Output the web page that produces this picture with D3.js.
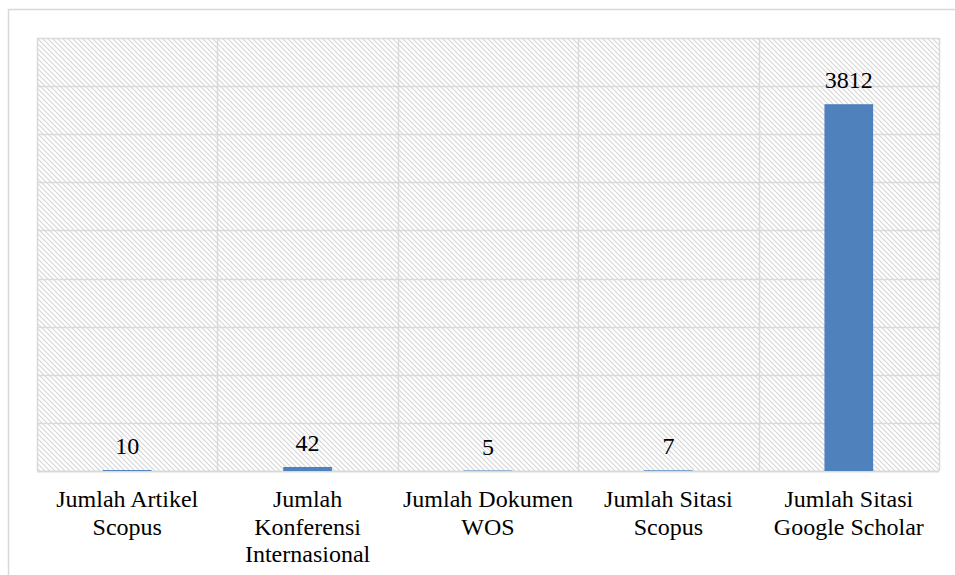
<!DOCTYPE html>
<html>
<head>
<meta charset="utf-8">
<script src="https://cdn.jsdelivr.net/npm/d3@7"></script>
<style>
  body { margin: 0; background: #fff; }
  svg { display: block; }
</style>
</head>
<body>
<script>
var categories = [
  ["Jumlah Artikel", "Scopus"],
  ["Jumlah", "Konferensi", "Internasional"],
  ["Jumlah Dokumen", "WOS"],
  ["Jumlah Sitasi", "Scopus"],
  ["Jumlah Sitasi", "Google Scholar"]
];
var values = [10, 42, 5, 7, 3812];
var yTicks = d3.range(0, 4501, 500);

var serif = "Liberation Serif, DejaVu Serif, serif";

var size = { width: 955, height: 575 };
var margin = { top: 38, right: 16, bottom: 104, left: 37 };
var w = size.width - margin.left - margin.right;
var h = size.height - margin.top - margin.bottom;

var svg = d3.select("body").append("svg")
  .attr("width", size.width)
  .attr("height", size.height);

// hatch pattern for the plot area
var pat = svg.append("defs").append("pattern")
  .attr("id", "hatch")
  .attr("patternUnits", "userSpaceOnUse")
  .attr("width", 5).attr("height", 5);
pat.append("rect").attr("width", 5).attr("height", 5).attr("fill", "#fff");
pat.append("path")
  .attr("d", "M-1,-1 L6,6 M-1,4 L1,6 M4,-1 L6,1")
  .attr("stroke", "#d6d6d6")
  .attr("stroke-width", 1.1);

// outer chart frame
svg.append("path")
  .attr("d", "M8.5,580 V9.5 H960")
  .attr("fill", "none")
  .attr("stroke", "#d9d9d9")
  .attr("stroke-width", 1.5);

var g = svg.append("g")
  .attr("transform", "translate(" + margin.left + "," + margin.top + ")");

var names = categories.map(function(c) { return c.join(" "); });

var x = d3.scaleBand().domain(names).range([0, w]).paddingInner(0.73).paddingOuter(0.365);
var xEdge = d3.scaleLinear().domain([0, names.length]).range([0, w]);
var y = d3.scaleLinear().domain([0, 4500]).range([h, 0]);

g.append("rect")
  .attr("width", w).attr("height", h)
  .attr("fill", "url(#hatch)");

// horizontal gridlines
g.selectAll(".hgrid")
  .data(yTicks)
  .enter().append("line")
  .attr("x1", 0).attr("x2", w)
  .attr("y1", function(d) { return Math.round(y(d)) + 0.5; })
  .attr("y2", function(d) { return Math.round(y(d)) + 0.5; })
  .attr("stroke", "#d9d9d9")
  .attr("stroke-width", function(d) { return d === 0 ? 2 : 1.5; });

// vertical gridlines
g.selectAll(".vgrid")
  .data(d3.range(0, names.length + 1))
  .enter().append("line")
  .attr("x1", function(d) { return Math.round(xEdge(d)) + 0.5; })
  .attr("x2", function(d) { return Math.round(xEdge(d)) + 0.5; })
  .attr("y1", 0).attr("y2", h)
  .attr("stroke", "#d9d9d9")
  .attr("stroke-width", 1.5);

// bars
g.selectAll(".bar")
  .data(values)
  .enter().append("rect")
  .attr("x", function(d, i) { return x(names[i]); })
  .attr("width", x.bandwidth())
  .attr("y", function(d) { return y(d); })
  .attr("height", function(d) { return h - y(d); })
  .attr("fill", "#4f81bd");

// value labels
g.selectAll(".val")
  .data(values)
  .enter().append("text")
  .attr("x", function(d, i) { return x(names[i]) + x.bandwidth() / 2; })
  .attr("y", function(d) { return y(d) - 16; })
  .attr("text-anchor", "middle")
  .attr("font-family", serif)
  .attr("font-size", 24)
  .attr("fill", "#000")
  .text(function(d) { return d; });

// category labels
var lbl = g.selectAll(".cat")
  .data(categories)
  .enter().append("text")
  .attr("text-anchor", "middle")
  .attr("font-family", serif)
  .attr("font-size", 24)
  .attr("fill", "#000")
  .attr("transform", function(d, i) {
    return "translate(" + (x(names[i]) + x.bandwidth() / 2) + "," + (h + 36) + ")";
  });

lbl.selectAll("tspan")
  .data(function(d) { return d; })
  .enter().append("tspan")
  .attr("x", 0)
  .attr("y", function(d, i) { return i * 27.5; })
  .attr("font-family", serif)
  .text(function(d) { return d; });
</script>
</body>
</html>
